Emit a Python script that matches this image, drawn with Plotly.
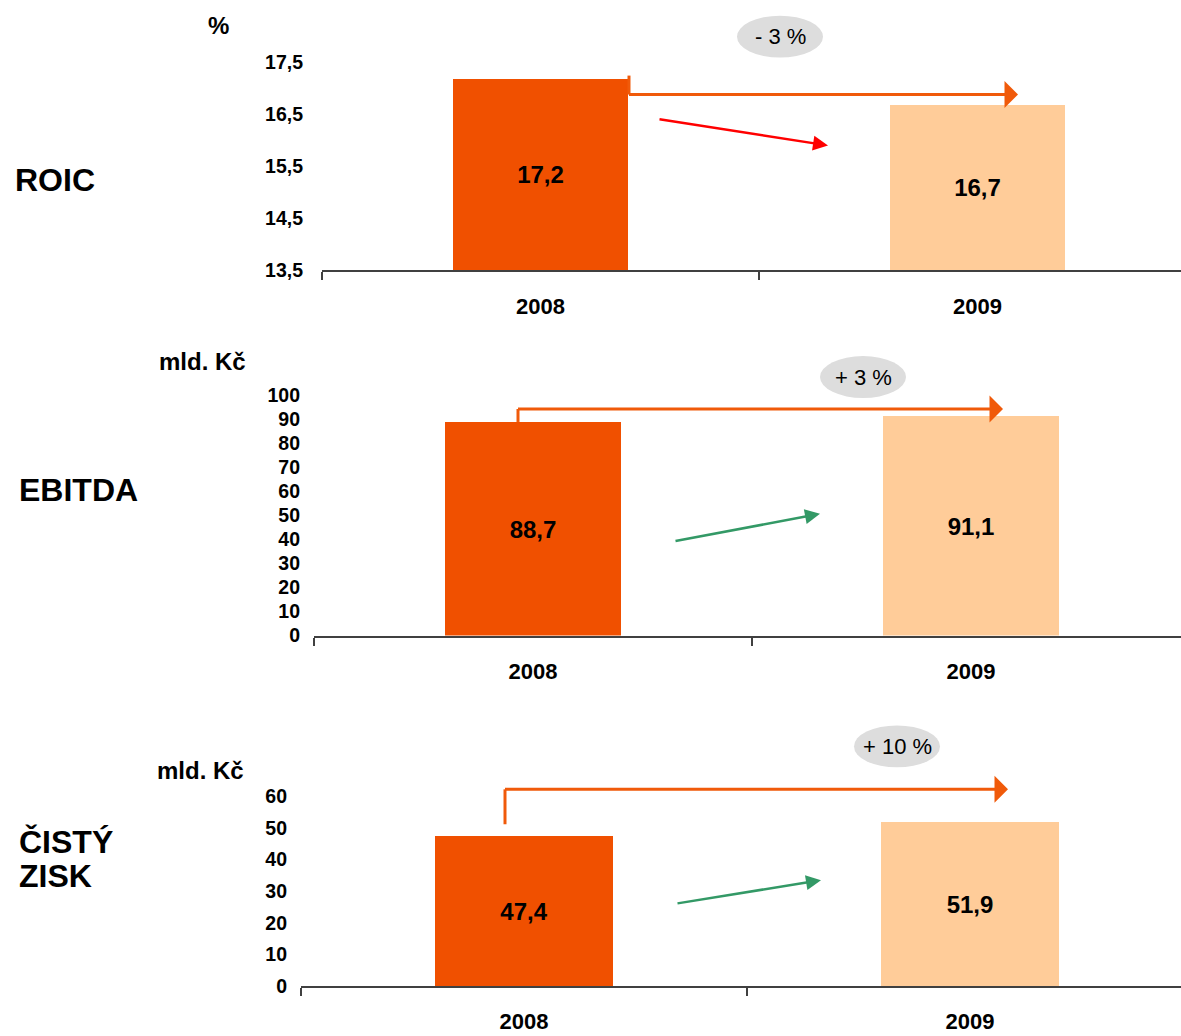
import plotly.graph_objects as go

# ---- data ----
years = ["2008", "2009"]
roic = [17.2, 16.7]
ebitda = [88.7, 91.1]
cisty_zisk = [47.4, 51.9]
roic_ticks = [13.5, 14.5, 15.5, 16.5, 17.5]
ebitda_ticks = [0, 10, 20, 30, 40, 50, 60, 70, 80, 90, 100]
zisk_ticks = [0, 10, 20, 30, 40, 50, 60]
changes = ["- 3 %", "+ 3 %", "+ 10 %"]
row_titles = ["ROIC", "EBITDA", "ČISTÝ<br>ZISK"]
units = ["%", "mld. Kč", "mld. Kč"]

W, H = 1181, 1036
FONT = "Liberation Sans, Arial, sans-serif"
DARK = "#F05000"
LIGHT = "#FFCC99"
ORANGE_LINE = "#F05A0A"
GREEN = "#339966"
RED = "#FF0000"

# vertical calibration of the rendered page (observed)
VS, VO = 0.9805, 10.3


def pxx(px):
    return px / W


def pxy(py):
    return 1 - ((py - VO) / VS) / H


def dy(d):
    return d / VS


xpos = [0, 1]

fig = go.Figure()

panels = [
    dict(vals=roic, ticks=roic_ticks, xl=322, yb=270, yt=62, yr=[13.5, 17.5], ystand=18, cw=437),
    dict(vals=ebitda, ticks=ebitda_ticks, xl=314, yb=636, yt=395, yr=[0, 100], ystand=13, cw=438),
    dict(vals=cisty_zisk, ticks=zisk_ticks, xl=301, yb=987, yt=797, yr=[0, 60], ystand=13, cw=446),
]

layout_axes = {}
for i, p in enumerate(panels):
    n = i + 1
    xa = "x" if n == 1 else f"x{n}"
    ya = "y" if n == 1 else f"y{n}"
    base = p["yr"][0]
    fig.add_trace(go.Bar(
        x=xpos, y=[v - base for v in p["vals"]], base=base, xaxis=xa, yaxis=ya,
        customdata=p["vals"],
        width=0.4,
        marker=dict(color=[DARK, LIGHT], line=dict(width=0)),
        texttemplate="%{customdata:.1f}", textposition="inside", insidetextanchor="middle",
        textfont=dict(family=FONT, size=24, color="black", weight="bold"),
        showlegend=False, hoverinfo="skip",
    ))
    xr_end = -0.5 + (W - p["xl"]) / p["cw"]
    layout_axes[f"xaxis{'' if n == 1 else n}"] = dict(
        domain=[pxx(p["xl"]), 1], range=[-0.5, xr_end], anchor=ya,
        tickvals=xpos, ticktext=years, ticks="", showgrid=False, zeroline=False,
        showline=True, linecolor="#404040", linewidth=2,
        tickfont=dict(family=FONT, size=22, color="black", weight="bold"),
        ticklabelstandoff=15,
        minor=dict(tickvals=[-0.5, 0.5], ticks="outside", ticklen=8, tickwidth=1.5, tickcolor="#404040"),
        fixedrange=True,
    )
    layout_axes[f"yaxis{'' if n == 1 else n}"] = dict(
        domain=[pxy(p["yb"]), pxy(p["yt"])], range=p["yr"], anchor=xa,
        tickvals=p["ticks"], ticks="", showgrid=False, zeroline=False, showline=False,
        tickfont=dict(family=FONT, size=19.5, color="black", weight="bold"),
        tickformat=".1f" if i == 0 else "d",
        ticklabelstandoff=p["ystand"], fixedrange=True,
    )

fig.update_layout(**layout_axes)

annotations = []
shapes = []

# orange bracket arrows: (start of vertical), (corner), (arrow tip) in reference pixels
brackets = [
    ((629, 75), (629, 94), (1018, 94)),
    ((518, 422), (518, 409), (1003, 409)),
    ((505, 825), (505, 790), (1008, 790)),
]
for a, b, c in brackets:
    shapes.append(dict(type="line", xref="paper", yref="paper",
                       x0=pxx(a[0]), y0=pxy(a[1]), x1=pxx(b[0]), y1=pxy(b[1]),
                       line=dict(color=ORANGE_LINE, width=3)))
    annotations.append(dict(xref="paper", yref="paper", x=pxx(c[0]), y=pxy(c[1]),
                            ax=b[0] - 1.5 - c[0], ay=dy(b[1] - c[1]),
                            text="", showarrow=True, arrowhead=1, arrowsize=1.5, arrowwidth=3,
                            arrowcolor=ORANGE_LINE))

# trend arrows (tail, tip) in reference pixels
trend = [
    ((658, 119), (828, 145), RED),
    ((674, 541), (820, 514), GREEN),
    ((676, 904), (821, 881), GREEN),
]
for s, e, col in trend:
    annotations.append(dict(xref="paper", yref="paper", x=pxx(e[0]), y=pxy(e[1]),
                            ax=s[0] - e[0], ay=dy(s[1] - e[1]),
                            text="", showarrow=True, arrowhead=2, arrowsize=1.2, arrowwidth=2.5,
                            arrowcolor=col))

# change bubbles
bubbles = [(780, 36), (863, 377), (897, 747)]
for (cxp, cyp), txt in zip(bubbles, changes):
    shapes.append(dict(type="circle", xref="paper", yref="paper",
                       x0=pxx(cxp - 43), x1=pxx(cxp + 43),
                       y0=pxy(cyp + 21), y1=pxy(cyp - 21),
                       fillcolor="#DDDDDD", line=dict(width=0), layer="below"))
    annotations.append(dict(xref="paper", yref="paper", x=pxx(cxp), y=pxy(cyp),
                            text=txt, showarrow=False, xanchor="center", yanchor="middle",
                            font=dict(family=FONT, size=22, color="black")))

# row titles (each line placed separately for tight line spacing)
title_pos = [(13, 180), (17, 490), (17, 843)]
LINE_GAP = 34
for (tx, ty), t in zip(title_pos, row_titles):
    for k, line in enumerate(t.split("<br>")):
        annotations.append(dict(xref="paper", yref="paper", x=pxx(tx), y=pxy(ty + k * LINE_GAP),
                                text=line, showarrow=False, xanchor="left", yanchor="middle",
                                align="left",
                                font=dict(family=FONT, size=32, color="black", weight="bold")))

# unit labels
unit_pos = [(218, 25), (202, 361), (200, 771)]
for (ux, uy), u in zip(unit_pos, units):
    annotations.append(dict(xref="paper", yref="paper", x=pxx(ux), y=pxy(uy), text=u,
                            showarrow=False, xanchor="center", yanchor="middle",
                            font=dict(family=FONT, size=24, color="black", weight="bold")))

fig.update_layout(
    width=W, height=H, autosize=False,
    margin=dict(l=0, r=0, t=0, b=0),
    paper_bgcolor="white", plot_bgcolor="white",
    separators=", ",
    bargap=0, showlegend=False,
    annotations=annotations, shapes=shapes,
)

fig.write_html(
    "out.html",
    config={"displayModeBar": False},
    post_script="document.body.style.margin='0';document.body.style.overflow='hidden';",
)
